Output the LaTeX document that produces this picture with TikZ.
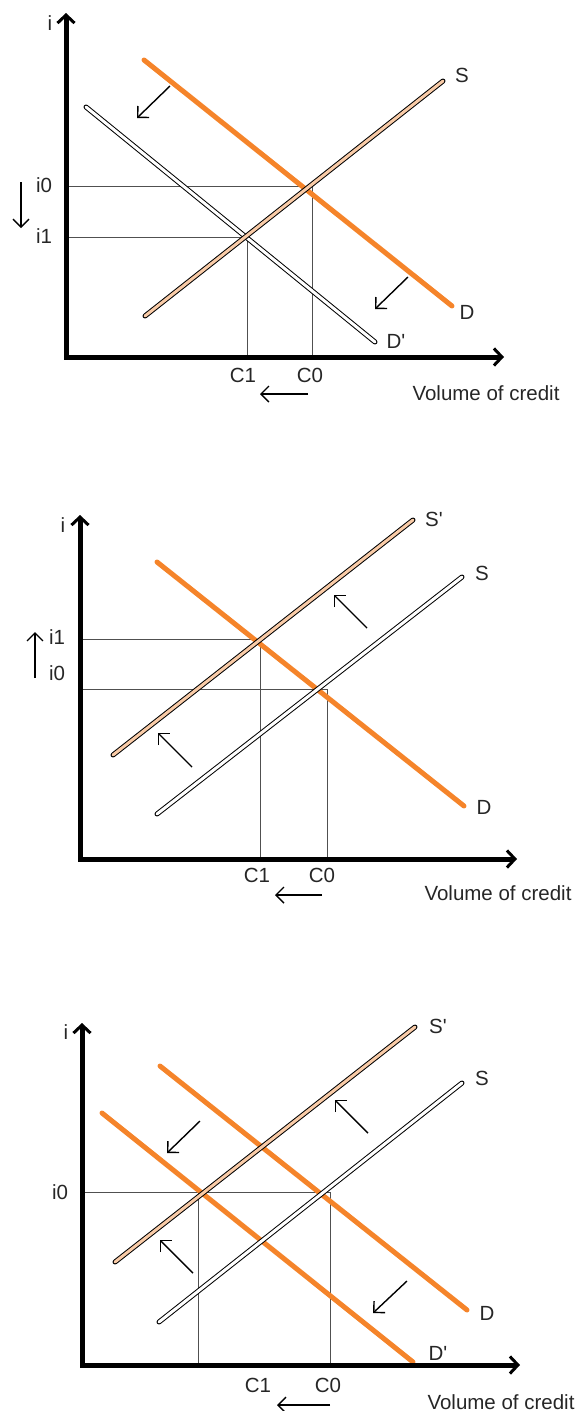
\documentclass[tikz,border=0pt]{standalone}
\usepackage{fontspec}
\setmainfont{Liberation Sans}
\usetikzlibrary{arrows.meta}
\definecolor{demandorange}{HTML}{F5842A}
\definecolor{supplypeach}{HTML}{F9CBA7}
\definecolor{guidegray}{HTML}{505050}

\begin{document}
\begin{tikzpicture}[x=1pt, y=-1pt,
  font=\fontsize{20.5}{24}\selectfont,
  lbl/.style={inner sep=0pt, text=black!85},
  axis/.style={line width=5pt, draw=black,
    {Straight Barb[length=8pt,width=17pt,line width=3pt]}-{Straight Barb[length=8pt,width=17pt,line width=3pt]}},
  guide/.style={draw=guidegray, line width=0.9pt},
  demand/.style={draw=demandorange, line width=5pt, line cap=round},
  supply/.style={draw=black, line width=1pt, double=white, double distance=3pt, line cap=round},
  newsupply/.style={supply, double=supplypeach},
  shiftarrow/.style={draw=black, line width=1.4pt, -{Straight Barb[length=8pt,width=16pt]}}
]
\useasboundingbox (0,0) rectangle (575,1411);

% ---- fall in demand
\coordinate (a-top) at (66,13);
\coordinate (a-org) at (66,357);
\coordinate (a-end) at (504,357);
\coordinate (a-i0) at (66,186);
\coordinate (a-i1) at (66,237);
\coordinate (a-C0) at (312,357);
\coordinate (a-C1) at (247,357);
\coordinate (a-D1) at (144,60);   \coordinate (a-D2) at (452,306);
\coordinate (a-Dp1) at (86,107);  \coordinate (a-Dp2) at (375,342);
\coordinate (a-S1) at (145,316);  \coordinate (a-S2) at (443,81);

\draw[guide] (a-i0) -| (a-C0);
\draw[guide] (a-i1) -| (a-C1);
\draw[demand] (a-D1) -- (a-D2);
\draw[supply] (a-Dp1) -- (a-Dp2);
\draw[newsupply] (a-S1) -- (a-S2);
\draw[axis] (a-top) -- (a-org) -- (a-end);

\node[lbl] (a-ilab) at (50,23) {i};
\node[lbl] (a-i0lab) at (44,185) {i0};
\node[lbl] (a-i1lab) at (44,236) {i1};
\node[lbl] (a-Dlab) at (467,312) {D};
\node[lbl] (a-Dplab) at (396,341) {D\textquotesingle};
\node[lbl] (a-Slab) at (462,75) {S};
\node[lbl] (a-C1lab) at (243,375) {C1};
\node[lbl] (a-C0lab) at (310,375) {C0};
\node[lbl] (a-vol) at (486,393) {Volume of credit};

\coordinate (a-dn1) at (21,182);  \coordinate (a-dn2) at (21,228);
\coordinate (a-lf1) at (308,394); \coordinate (a-lf2) at (260,394);
\coordinate (a-sh1) at (170,86);  \coordinate (a-sh2) at (137,118);
\coordinate (a-sh3) at (408,277); \coordinate (a-sh4) at (375,309);
\draw[shiftarrow] (a-dn1) -- (a-dn2);
\draw[shiftarrow] (a-lf1) -- (a-lf2);
\draw[shiftarrow] (a-sh1) -- (a-sh2);
\draw[shiftarrow] (a-sh3) -- (a-sh4);

% ---- fall in supply
\coordinate (b-top) at (80,515);
\coordinate (b-org) at (80,859);
\coordinate (b-end) at (517,859);
\coordinate (b-i1) at (80,639);
\coordinate (b-i0) at (80,689);
\coordinate (b-C1) at (260,859);
\coordinate (b-C0) at (327,859);
\coordinate (b-D1) at (157,562);  \coordinate (b-D2) at (464,806);
\coordinate (b-Sp1) at (113,755); \coordinate (b-Sp2) at (413,520);
\coordinate (b-S1) at (157,814);  \coordinate (b-S2) at (462,577);

\draw[guide] (b-i1) -| (b-C1);
\draw[guide] (b-i0) -| (b-C0);
\draw[demand] (b-D1) -- (b-D2);
\draw[newsupply] (b-Sp1) -- (b-Sp2);
\draw[supply] (b-S1) -- (b-S2);
\draw[axis] (b-top) -- (b-org) -- (b-end);

\node[lbl] (b-ilab) at (63,525) {i};
\node[lbl] (b-i1lab) at (57,637) {i1};
\node[lbl] (b-i0lab) at (57,673) {i0};
\node[lbl] (b-Dlab) at (484,807) {D};
\node[lbl] (b-Splab) at (434,519) {S\textquotesingle};
\node[lbl] (b-Slab) at (482,573) {S};
\node[lbl] (b-C1lab) at (257,875) {C1};
\node[lbl] (b-C0lab) at (322,875) {C0};
\node[lbl] (b-vol) at (498,893) {Volume of credit};

\coordinate (b-up1) at (35,678);  \coordinate (b-up2) at (35,632);
\coordinate (b-lf1) at (322,895); \coordinate (b-lf2) at (275,895);
\coordinate (b-sh1) at (192,767); \coordinate (b-sh2) at (158,733);
\coordinate (b-sh3) at (367,628); \coordinate (b-sh4) at (334,595);
\draw[shiftarrow] (b-up1) -- (b-up2);
\draw[shiftarrow] (b-lf1) -- (b-lf2);
\draw[shiftarrow] (b-sh1) -- (b-sh2);
\draw[shiftarrow] (b-sh3) -- (b-sh4);

% ---- fall in demand and supply
\coordinate (c-top) at (82,1023);
\coordinate (c-org) at (82,1365);
\coordinate (c-end) at (520,1365);
\coordinate (c-i0) at (82,1192);
\coordinate (c-C1) at (198,1365);
\coordinate (c-C0) at (330,1365);
\coordinate (c-D1) at (160,1066);  \coordinate (c-D2) at (467,1310);
\coordinate (c-Dp1) at (102,1113); \coordinate (c-Dp2) at (413,1362);
\coordinate (c-Sp1) at (115,1262); \coordinate (c-Sp2) at (415,1027);
\coordinate (c-S1) at (159,1322);  \coordinate (c-S2) at (462,1083);

\draw[guide] (c-i0) -| (c-C0);
\draw[guide] (c-C1) -- (c-C1 |- c-i0);
\draw[demand] (c-D1) -- (c-D2);
\draw[demand] (c-Dp1) -- (c-Dp2);
\draw[newsupply] (c-Sp1) -- (c-Sp2);
\draw[supply] (c-S1) -- (c-S2);
\draw[axis] (c-top) -- (c-org) -- (c-end);

\node[lbl] (c-ilab) at (66,1032) {i};
\node[lbl] (c-i0lab) at (60,1192) {i0};
\node[lbl] (c-Dlab) at (487,1313) {D};
\node[lbl] (c-Dplab) at (438,1353) {D\textquotesingle};
\node[lbl] (c-Splab) at (438,1026) {S\textquotesingle};
\node[lbl] (c-Slab) at (482,1078) {S};
\node[lbl] (c-C1lab) at (258,1385) {C1};
\node[lbl] (c-C0lab) at (328,1385) {C0};
\node[lbl] (c-vol) at (501,1402) {Volume of credit};

\coordinate (c-lf1) at (330,1405);  \coordinate (c-lf2) at (277,1405);
\coordinate (c-sh1) at (200,1121);  \coordinate (c-sh2) at (167,1153);
\coordinate (c-sh3) at (193,1273);  \coordinate (c-sh4) at (160,1240);
\coordinate (c-sh5) at (368,1133);  \coordinate (c-sh6) at (335,1100);
\coordinate (c-sh7) at (407,1281);  \coordinate (c-sh8) at (373,1313);
\draw[shiftarrow] (c-lf1) -- (c-lf2);
\draw[shiftarrow] (c-sh1) -- (c-sh2);
\draw[shiftarrow] (c-sh3) -- (c-sh4);
\draw[shiftarrow] (c-sh5) -- (c-sh6);
\draw[shiftarrow] (c-sh7) -- (c-sh8);

\end{tikzpicture}
\end{document}
